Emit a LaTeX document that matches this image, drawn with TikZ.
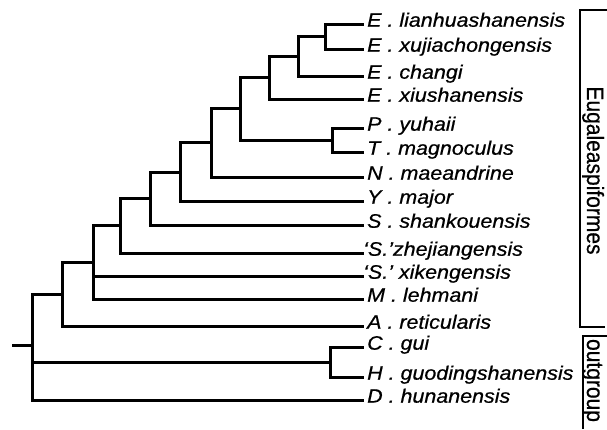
\documentclass[tikz,border=0pt]{standalone}
\usepackage{fontspec}
\usepackage{graphicx}
\setmainfont{Liberation Sans}[FakeBold=0.6]
\newcommand\sx[1]{\scalebox{1.1}[1]{#1}}
\newcommand\sy[1]{\scalebox{1}[1.12]{#1}}
\begin{document}
\begin{tikzpicture}[x=1pt,y=1pt,
  branch/.style={line width=3pt},
  brk/.style={line width=2.5pt},
  lab/.style={anchor=base west,inner sep=0pt,font=\fontsize{19.5}{21}\selectfont\itshape},
  grp/.style={anchor=base,inner sep=0pt,rotate=-90,font=\fontsize{21}{22}\selectfont}]
\useasboundingbox (0,0) rectangle (607,-429);
% leaf tips
\foreach \n/\y in {1/24,2/49,3/76,4/99,5/128,6/152,7/177,8/201,9/225,10/253,11/276,12/299,13/326,14/347,15/377,16/400}{
  \coordinate (l\n) at (364,-\y);
}
% labels
\node[lab] (t1) at (367,-26.7) {\sx{E . lianhuashanensis}};
\node[lab] (t2) at (367,-51.7) {\sx{E . xujiachongensis}};
\node[lab] (t3) at (367,-78.7) {\sx{E . changi}};
\node[lab] (t4) at (367,-101.7) {\sx{E . xiushanensis}};
\node[lab] (t5) at (367,-130.7) {\sx{P . yuhaii}};
\node[lab] (t6) at (367,-154.7) {\sx{T . magnoculus}};
\node[lab] (t7) at (367,-179.7) {\sx{N . maeandrine}};
\node[lab] (t8) at (367,-203.7) {\sx{Y . major}};
\node[lab] (t9) at (367,-227.7) {\sx{S . shankouensis}};
\node[lab] (t10) at (363,-255.7) {\sx{‘S.’zhejiangensis}};
\node[lab] (t11) at (363,-278.7) {\sx{‘S.’ xikengensis}};
\node[lab] (t12) at (367,-301.7) {\sx{M . lehmani}};
\node[lab] (t13) at (367,-328.7) {\sx{A . reticularis}};
\node[lab] (t14) at (367,-349.7) {\sx{C . gui}};
\node[lab] (t15) at (367,-379.7) {\sx{H . guodingshanensis}};
\node[lab] (t16) at (367,-402.7) {\sx{D . hunanensis}};
% internal nodes
\coordinate (c1) at (325,-36.5);
\coordinate (cA) at (298,-56.25);
\coordinate (cB) at (269,-77.6);
\coordinate (c2) at (332,-140);
\coordinate (cC) at (240,-108.8);
\coordinate (cD) at (211,-142.9);
\coordinate (cE) at (180,-172);
\coordinate (cF) at (150,-198.5);
\coordinate (cG) at (120,-225.75);
\coordinate (cH) at (93,-262.4);
\coordinate (cI) at (62,-294.2);
\coordinate (c3) at (330,-362);
\coordinate (cJ) at (32,-347.1);
\coordinate (r) at (12,-345);
% branches
\draw[branch] (c1) |- (l1); \draw[branch] (c1) |- (l2);
\draw[branch] (cA) |- (c1); \draw[branch] (cA) |- (l3);
\draw[branch] (cB) |- (cA); \draw[branch] (cB) |- (l4);
\draw[branch] (c2) |- (l5); \draw[branch] (c2) |- (l6);
\draw[branch] (cC) |- (cB); \draw[branch] (cC) |- (c2);
\draw[branch] (cD) |- (cC); \draw[branch] (cD) |- (l7);
\draw[branch] (cE) |- (cD); \draw[branch] (cE) |- (l8);
\draw[branch] (cF) |- (cE); \draw[branch] (cF) |- (l9);
\draw[branch] (cG) |- (cF); \draw[branch] (cG) |- (l10);
\draw[branch] (cH) |- (cG); \draw[branch] (cH) |- (l11); \draw[branch] (cH) |- (l12);
\draw[branch] (cI) |- (cH); \draw[branch] (cI) |- (l13);
\draw[branch] (c3) |- (l14); \draw[branch] (c3) |- (l15);
\draw[branch] (cJ) |- (cI); \draw[branch] (cJ) |- (c3); \draw[branch] (cJ) |- (l16);
\draw[branch] (r) -- (r -| cJ);
% group brackets
\coordinate (b1a) at (607,-10);
\coordinate (b1b) at (580,-10);
\coordinate (b1c) at (580,-327);
\coordinate (b1d) at (605,-327);
\draw[brk] (b1a) -- (b1b) -- (b1c) -- (b1d);
\coordinate (b2a) at (607,-336);
\coordinate (b2b) at (583,-336);
\coordinate (b2c) at (583,-429);
\draw[brk] (b2a) -- (b2b) -- (b2c);
\node[grp] (g1) at (587,-170.5) {\sy{Eugaleaspiformes}};
\node[grp] (g2) at (587,-380.5) {\sy{outgroup}};
\end{tikzpicture}
\end{document}
